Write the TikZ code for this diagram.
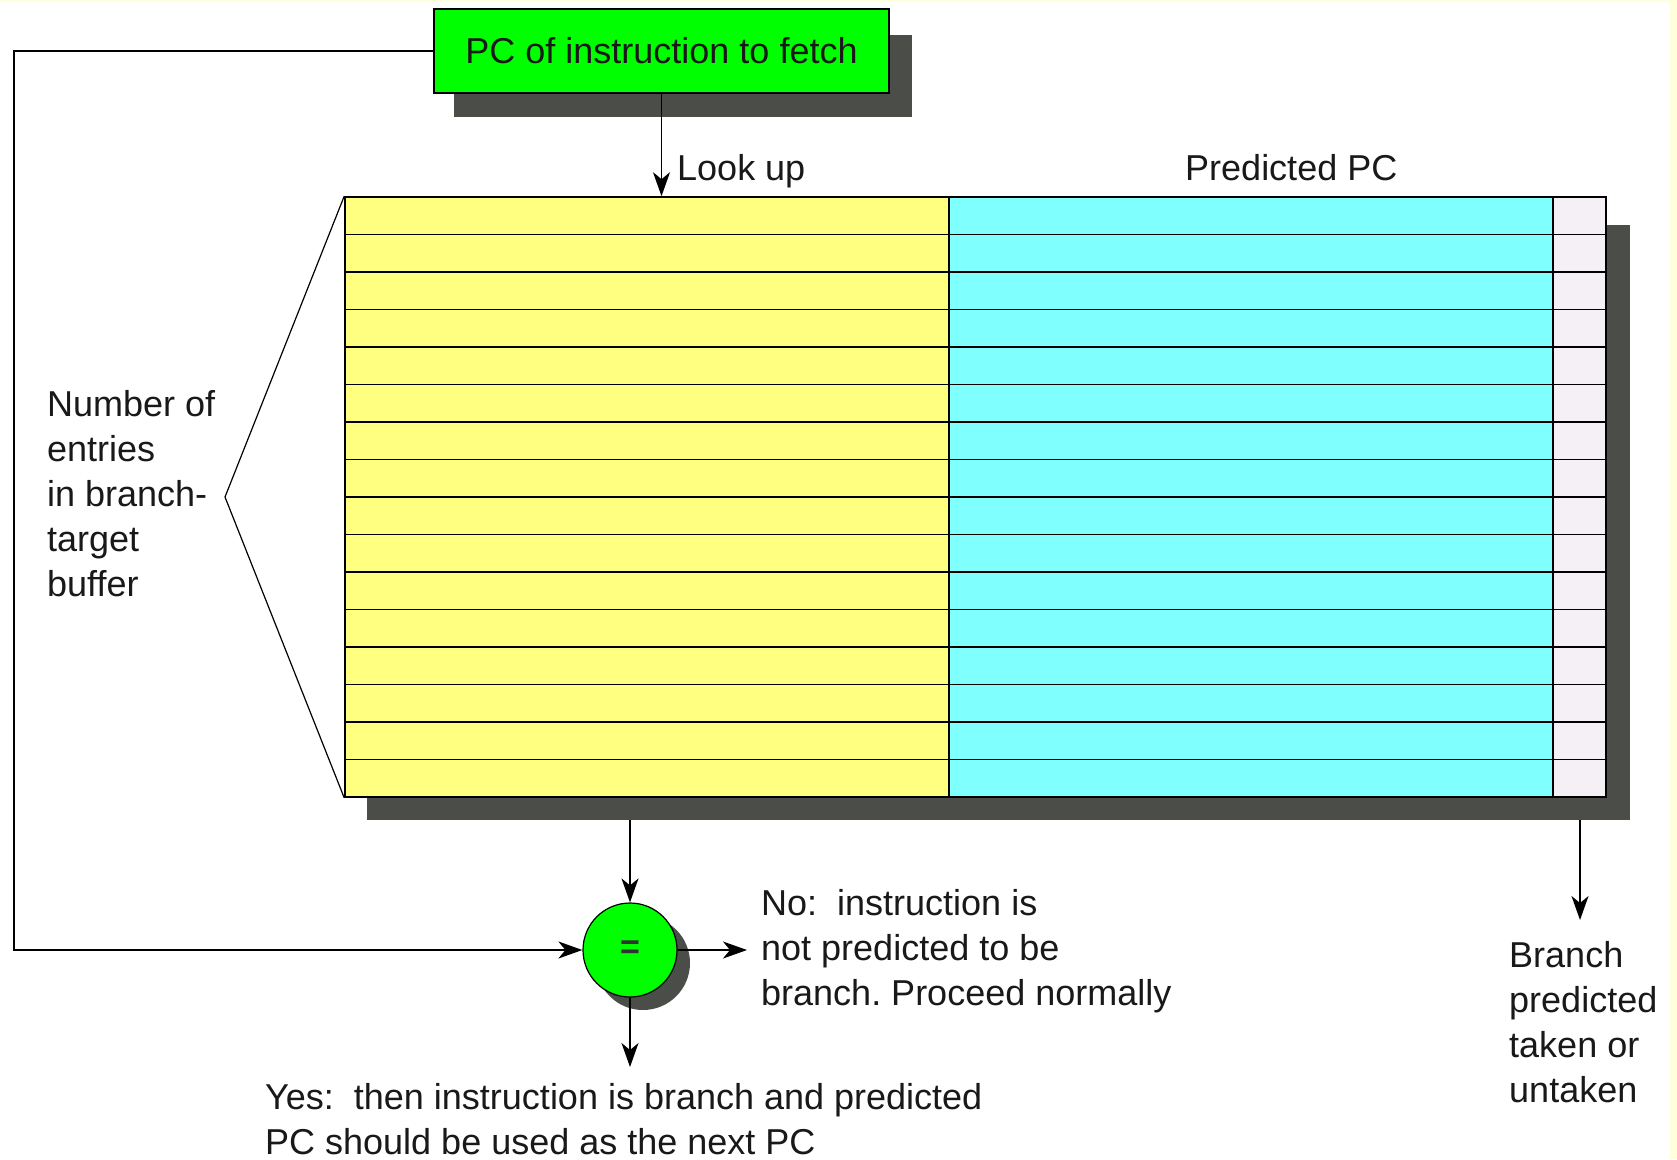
\documentclass[tikz,border=0pt]{standalone}
\usepackage{fontspec}
\setmainfont{Liberation Sans}
\usetikzlibrary{arrows.meta}
\definecolor{cream}{HTML}{FFFFDC}
\definecolor{shad}{HTML}{4B4D49}
\definecolor{gbox}{HTML}{00FF00}
\definecolor{ycol}{HTML}{FFFF80}
\definecolor{ccol}{HTML}{80FFFF}
\definecolor{lcol}{HTML}{F5F0F5}
\frenchspacing
\begin{document}
\begin{tikzpicture}[x=1pt,y=-1pt,
  lbl/.style={font=\fontsize{36}{45}\selectfont, inner sep=0pt, anchor=base west, align=left, text=black!90},
  conn/.style={line width=1.8pt, -{Stealth[length=24pt,width=17pt,inset=7pt]}},
  wire/.style={line width=1.6pt},
  shadowbox/.style={fill=shad}]
\fill[cream] (0,0) rectangle (1677,1159);
\fill[white] (0,2) rectangle (1670,1159);
\useasboundingbox (0,0) rectangle (1677,1159);

% shadows
\fill[shadowbox] (454,35) rectangle (912,117);
\fill[shadowbox] (367,225) rectangle (1630,820);
\fill[shadowbox] (643,963) circle (47);

% table columns
\fill[ycol] (345,197) rectangle (949,797);
\fill[ccol] (949,197) rectangle (1553,797);
\fill[lcol] (1553,197) rectangle (1606,797);
\foreach \i in {1,...,15} \draw[wire] (345,197+37.5*\i) -- (1606,197+37.5*\i);
\draw[wire] (949,197) -- (949,797);
\draw[wire] (1553,197) -- (1553,797);
\node[draw, line width=1.6pt, minimum width=1261pt, minimum height=600pt, inner sep=0pt] (btb) at (975.5,497) {};

% top box
\node[draw, line width=1.6pt, fill=gbox, minimum width=455pt, minimum height=84pt, inner sep=0pt,
      font=\fontsize{36}{45}\selectfont, text=black!90] (pc) at (661.5,51) {PC of instruction to fetch};

% comparator
\node[circle, draw, line width=1.2pt, fill=gbox, minimum size=94pt, inner sep=0pt,
      font=\fontsize{34}{40}\selectfont\bfseries, text=black!80] (eq) at (630,950) {=};

% bracket
\coordinate (bk) at (225,497);
\draw[line width=1.2pt] (btb.north west) -- (bk) -- (btb.south west);

% connectors
\coordinate (c1) at (14,51);
\coordinate (c2) at (14,950);
\draw[conn] (pc.west) -- (c1) -- (c2) -- (eq.west);
\draw[conn] (pc.south) -- (pc.south |- btb.north);
\coordinate (t1) at (630,820);
\draw[conn] (t1) -- (eq.north);
\coordinate (noend) at (747,950);
\draw[conn] (eq.east) -- (noend);
\coordinate (yesend) at (630,1067);
\draw[conn] (eq.south) -- (yesend);
\coordinate (t2) at (1580,820);
\coordinate (brend) at (1580,920);
\draw[conn] (t2) -- (brend);

% labels (base anchor = baseline of the last line)
\node[lbl] (lookup) at (677,180) {Look up};
\node[lbl] (predpc) at (1185,180) {Predicted PC};
\node[lbl] (num) at (47,596) {Number of\\entries\\in branch-\\target\\buffer};
\node[lbl] (no) at (761,1005) {No:\ \ instruction is\\not predicted to be\\branch. Proceed normally};
\node[lbl] (yes) at (265,1154) {Yes:\ \ then instruction is branch and predicted\\PC should be used as the next PC};
\node[lbl] (br) at (1509,1102) {Branch\\predicted\\taken or\\untaken};
\end{tikzpicture}
\end{document}
